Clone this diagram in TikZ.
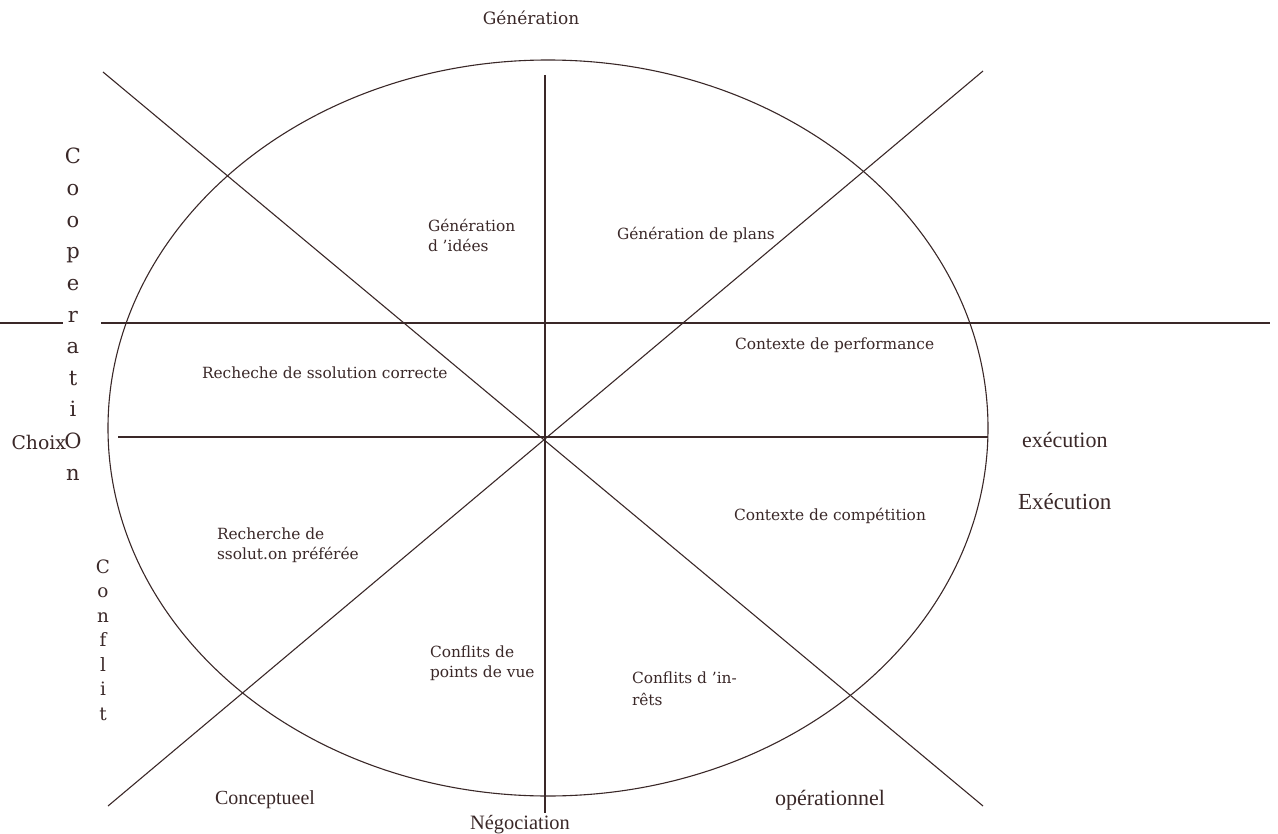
\documentclass[tikz,border=0pt]{standalone}
\usepackage{fontspec}
\setmainfont{Liberation Serif}
\newfontfamily\bk{DejaVu Serif}
\definecolor{ink}{RGB}{58,40,40}
\begin{document}
\begin{tikzpicture}[x=0.5pt,y=-0.5pt,
  every node/.style={inner sep=0pt,outer sep=0pt,text=ink},
  lin/.style={draw=ink,line width=0.55pt},
  lbl/.style={font=\bk\fontsize{7.7}{10}\selectfont,anchor=west,align=left},
  big/.style={font=\fontsize{11}{13}\selectfont},
  vl/.style={font=\bk\fontsize{10.5}{12}\selectfont,anchor=base},
  vs/.style={font=\bk\fontsize{9.2}{11}\selectfont,anchor=base}]
\useasboundingbox (0,0) rectangle (1278,834);
% ellipse
\draw[lin] (548,428) ellipse [x radius=440, y radius=368];
% guide points
\coordinate (d1a) at (103,72);
\coordinate (d1b) at (983,806);
\coordinate (d2a) at (983,71);
\coordinate (d2b) at (108,806);
\coordinate (vt) at (545,75);
\coordinate (vb) at (545,813);
\coordinate (h1l) at (118,437);
\coordinate (h1r) at (988,437);
\coordinate (h2l) at (0,323);
\coordinate (h2a) at (63,323);
\coordinate (h2b) at (101,323);
\coordinate (h2r) at (1270,323);
\draw[lin] (d1a) -- (d1b);
\draw[lin] (d2a) -- (d2b);
\draw[lin] (vt) -- (vb);
\draw[lin] (h1l) -- (h1r);
\draw[lin] (h2l) -- (h2a);
\draw[lin] (h2b) -- (h2r);
% outer labels
\node[font=\bk\fontsize{8.5}{10}\selectfont] (gen) at (531,18) {Génération};
\node[font=\fontsize{10.2}{12}\selectfont] (neg) at (520,825) {Négociation};
\node[font=\fontsize{10}{12}\selectfont,anchor=west] (conc) at (215,800) {Conceptueel};
\node[font=\fontsize{11}{13}\selectfont,anchor=west] (oper) at (775,800) {opérationnel};
\node[big,anchor=west] (exe1) at (1022,440) {exécution};
\node[font=\fontsize{11.5}{13}\selectfont,anchor=west] (exe2) at (1018,502) {Exécution};
\node[font=\bk\fontsize{9.4}{11}\selectfont,anchor=base east] (choix) at (66,449) {Choix};
\foreach \l [count=\i] in {C,o,o,p,e,r,a,t,i,O,n}
  \node[vl] (coop\i) at (73,{164+31.6*(\i-1)}) {\l};
\foreach \l [count=\i] in {C,o,n,f,l,i,t}
  \node[vs] (conf\i) at (103,{573+24.5*(\i-1)}) {\l};
% inner labels
\node[lbl] (gi) at (428,235) {Génération\\d ’idées};
\node[lbl] (gp) at (617,235) {Génération de plans};
\node[lbl] (rc) at (202,373) {Recheche de ssolution correcte};
\node[lbl] (cp) at (735,345) {Contexte de performance};
\node[lbl] (rp) at (217,545) {Recherche de\\ssolut.on préférée};
\node[lbl] (cc) at (734,516) {Contexte de compétition};
\node[lbl] (cv) at (430,663) {Conflits de\\points de vue};
\node[lbl,font=\bk\fontsize{7.7}{11}\selectfont] (ci) at (632,689) {Conflits d ’in-\\rêts};
\end{tikzpicture}
\end{document}
